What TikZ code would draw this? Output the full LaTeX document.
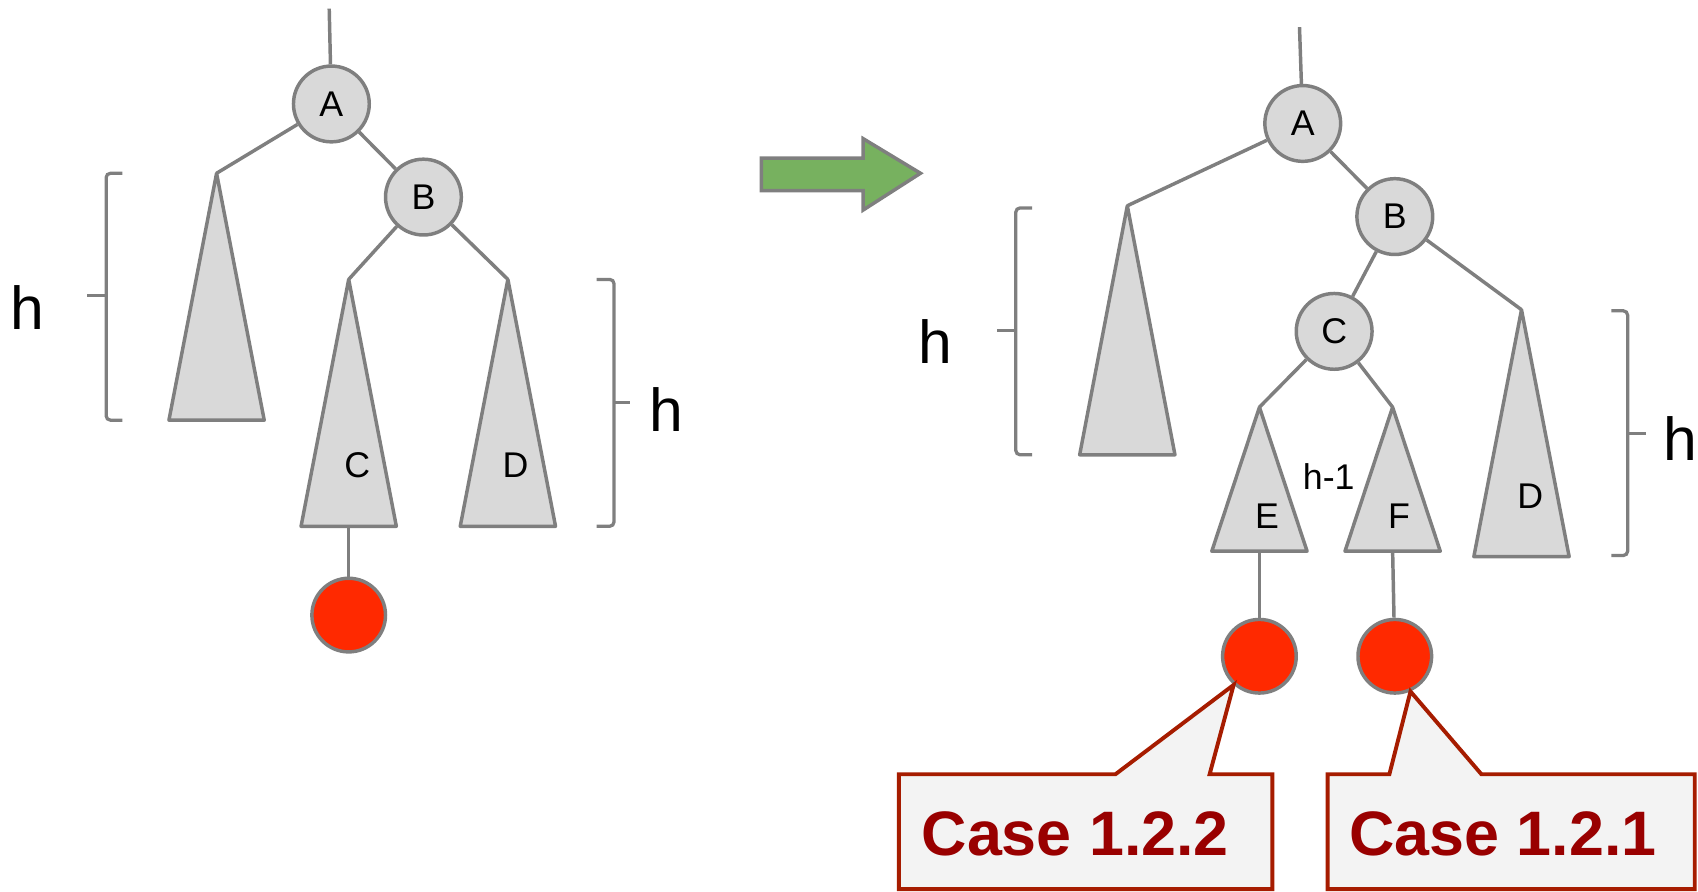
\documentclass[tikz,border=0pt]{standalone}
\usepackage{fontspec}
\setmainfont{Liberation Sans}
\usepackage{tikz}
\usetikzlibrary{positioning}
\definecolor{avlgray}{RGB}{127,127,127}
\definecolor{avlfill}{RGB}{217,217,217}
\definecolor{avlred}{RGB}{255,41,0}
\definecolor{avlgreen}{RGB}{119,177,95}
\definecolor{caseborder}{RGB}{166,28,0}
\definecolor{casetext}{RGB}{153,0,0}
\definecolor{casefill}{RGB}{243,243,243}
\tikzstyle{treenode} = [circle, minimum size=35pt, inner sep=0pt, draw=avlgray, fill=avlfill, line width=1.6pt, font=\fontsize{16.5}{19}\selectfont]
\tikzstyle{newnode} = [circle, minimum size=34pt, inner sep=0pt, draw=avlgray, fill=avlred, line width=1.6pt]
\tikzstyle{treeedge} = [draw=avlgray, line width=1.6pt]
\tikzstyle{subtree} = [draw=avlgray, fill=avlfill, line width=1.6pt, line join=round]
\tikzstyle{hbrace} = [draw=avlgray, line width=1.5pt, rounded corners=2pt]
\tikzstyle{hlabel} = [font=\fontsize{28}{32}\selectfont, inner sep=0pt]
\tikzstyle{tlabel} = [font=\fontsize{16.5}{19}\selectfont, inner sep=0pt]
\tikzstyle{bigarrow} = [draw=avlgray, fill=avlgreen, line width=1.6pt]
\tikzstyle{casebox} = [draw=caseborder, fill=casefill, line width=1.8pt]
\tikzstyle{casefont} = [font=\fontsize{29}{34}\selectfont\bfseries, text=casetext, inner sep=0pt]

\begin{document}
\begin{tikzpicture}[x=0.5pt, y=-0.5pt]
\useasboundingbox (0,0) rectangle (1568,823);

% Before: insertion below C
\coordinate (rootL) at (304,8);
\node[treenode] (A1) at (306,96) {A};
\node[treenode] (B1) at (391,182) {B};
\coordinate (T1) at (200,160);
\coordinate (C1) at (322,258);
\coordinate (D1) at (469,258);
\coordinate (C1b) at (322,486);
\node[newnode] (new1) at (322,568) {};

\draw[subtree] (T1) -- ++(-44,228) -- ++(88,0) -- cycle;
\draw[subtree] (C1) -- ++(-44,228) -- ++(88,0) -- cycle;
\draw[subtree] (D1) -- ++(-44,228) -- ++(88,0) -- cycle;
\node[tlabel] (labC1) at (330,430) {C};
\node[tlabel] (labD1) at (476,430) {D};

\draw[treeedge] (rootL) -- (A1);
\draw[treeedge] (A1) -- (T1);
\draw[treeedge] (A1) -- (B1);
\draw[treeedge] (B1) -- (C1);
\draw[treeedge] (B1) -- (D1);
\draw[treeedge] (C1b) -- (new1);

% Heights
\draw[hbrace] (113,160) -| (98,388) -- (113,388);
\draw[hbrace] (98,273) -- (80,273);
\node[hlabel] (h1) at (25,284) {h};
\draw[hbrace] (551,258) -| (567,486) -- (551,486);
\draw[hbrace] (567,372) -- (582,372);
\node[hlabel] (h2) at (615,378) {h};

% Arrow
\draw[bigarrow] (703,146) -- (797,146) -- (797,128) -- (850,160) -- (797,194) -- (797,176) -- (703,176) -- cycle;

% After: C expanded into E and F
\coordinate (rootR) at (1200,25);
\node[treenode] (A2) at (1203,114) {A};
\node[treenode] (B2) at (1288,200) {B};
\node[treenode] (C2) at (1232,306) {C};
\coordinate (T2) at (1041,190);
\coordinate (D2) at (1405,286);
\coordinate (E2) at (1163,376);
\coordinate (F2) at (1286,376);
\coordinate (E2b) at (1163,509);
\coordinate (F2b) at (1286,509);
\node[newnode] (newE) at (1163,606) {};
\node[newnode] (newF) at (1288,606) {};

\draw[subtree] (T2) -- ++(-44,230) -- ++(88,0) -- cycle;
\draw[subtree] (D2) -- ++(-44,228) -- ++(88,0) -- cycle;
\draw[subtree] (E2) -- ++(-44,133) -- ++(88,0) -- cycle;
\draw[subtree] (F2) -- ++(-44,133) -- ++(88,0) -- cycle;
\node[tlabel] (labD2) at (1413,458) {D};
\node[tlabel] (labE2) at (1170,477) {E};
\node[tlabel] (labF2) at (1292,477) {F};
\node[tlabel] (hm1) at (1227,440) {h-1};

\draw[treeedge] (rootR) -- (A2);
\draw[treeedge] (A2) -- (T2);
\draw[treeedge] (A2) -- (B2);
\draw[treeedge] (B2) -- (C2);
\draw[treeedge] (B2) -- (D2);
\draw[treeedge] (C2) -- (E2);
\draw[treeedge] (C2) -- (F2);
\draw[treeedge] (E2b) -- (newE);
\draw[treeedge] (F2b) -- (newF);

% Heights
\draw[hbrace] (953,192) -| (938,420) -- (953,420);
\draw[hbrace] (938,305) -- (921,305);
\node[hlabel] (h3) at (864,315) {h};
\draw[hbrace] (1488,287) -| (1503,513) -- (1488,513);
\draw[hbrace] (1503,400) -- (1520,400);
\node[hlabel] (h4) at (1552,405) {h};

% Callouts
\draw[casebox] (830,821) -- (830,715) -- (1030,715) -- (newE.228) -- (1117,715) -- (1175,715) -- (1175,821) -- cycle;
\node[casefont] (case122) at (993,770) {Case 1.2.2};
\draw[casebox] (1226,821) -- (1226,715) -- (1283,715) -- (newF.294) -- (1368,715) -- (1565,715) -- (1565,821) -- cycle;
\node[casefont] (case121) at (1388,770) {Case 1.2.1};
\end{tikzpicture}
\end{document}
